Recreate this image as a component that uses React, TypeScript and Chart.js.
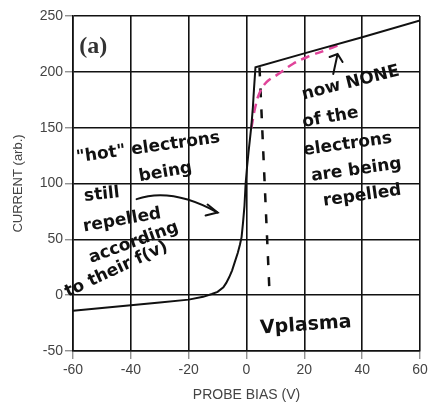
import React, { useEffect, useRef } from "react";
import { Chart, registerables } from "chart.js";

Chart.register(...registerables);

// Probe I-V characteristic (black)
const biasV = [-60, -50, -40, -30, -20, -15, -12, -10, -8, -7, -6, -5, -4, -3, -2.3, -1.7, -1.2, -0.7, -0.3, 0.2, 0.7, 1.2, 1.7, 2.2, 2.6, 3.1, 20, 40, 60];
const currentArb = [-14, -11.5, -9, -6.5, -4, -1.5, 1, 3, 7, 11, 16, 22, 30, 38, 45, 52, 65, 80, 100, 115, 128, 140, 152, 168, 185, 204, 216.5, 231, 246];

// Hand-drawn pink dashed curve
const pinkBias = [1.7, 3, 4.5, 7, 11, 16, 21.7, 27, 33];
const pinkCurrent = [150, 168, 181, 191, 198, 207, 214, 219, 225];

// Hand-drawn V_plasma dashed marker
const vplasmaBias = [4.5, 8];
const vplasmaCurrent = [204, 0];

const xTicks = [-60, -40, -20, 0, 20, 40, 60];
const yTicks = [-50, 0, 50, 100, 150, 200, 250];

const HAND = '600 17px "Comic Sans MS", "DejaVu Sans", sans-serif';

const leftNotes = [
  { t: '"hot" electrons', v: -34, i: 132, r: -8 },
  { t: "still", v: -50, i: 90, r: -6 },
  { t: "being", v: -28, i: 110, r: -10 },
  { t: "repelled", v: -43, i: 67, r: -10 },
  { t: "according", v: -39, i: 47, r: -20 },
  { t: "to their f(v)", v: -45, i: 23, r: -25 },
];
const rightNotes = [
  { t: "now NONE", v: 36, i: 190, r: -14 },
  { t: "of the", v: 29, i: 159, r: -10 },
  { t: "electrons", v: 35, i: 135, r: -8 },
  { t: "are being", v: 38, i: 112, r: -8 },
  { t: "repelled", v: 40, i: 89, r: -8 },
];

const toPts = (xs: number[], ys: number[]) => xs.map((x, k) => ({ x, y: ys[k] }));

const notesPlugin = {
  id: "notes",
  afterDatasetsDraw(chart: any) {
    const { ctx } = chart;
    const x = chart.scales.x;
    const y = chart.scales.y;
    const P = (v: number, i: number) => [x.getPixelForValue(v), y.getPixelForValue(i)];
    ctx.save();
    ctx.fillStyle = "#111";
    ctx.textAlign = "center";
    ctx.textBaseline = "middle";
    // (a)
    {
      const [px, py] = P(-53, 222);
      ctx.font = 'bold 24px "Liberation Serif", serif';
      ctx.fillStyle = "#333";
      ctx.fillText("(a)", px, py);
      ctx.fillStyle = "#111";
    }
    ctx.font = HAND;
    for (const n of [...leftNotes, ...rightNotes]) {
      const [px, py] = P(n.v, n.i);
      ctx.save();
      ctx.translate(px, py);
      ctx.rotate((n.r * Math.PI) / 180);
      ctx.fillText(n.t, 0, 0);
      ctx.restore();
    }
    // Vplasma
    {
      const [px, py] = P(20.5, -27);
      ctx.save();
      ctx.translate(px, py);
      ctx.rotate((-4 * Math.PI) / 180);
      ctx.font = '600 19px "Comic Sans MS", "DejaVu Sans", sans-serif';
      ctx.fillText("Vplasma", 0, 0);
      ctx.restore();
    }
    // arrows
    ctx.strokeStyle = "#111";
    ctx.lineWidth = 2;
    ctx.lineCap = "round";
    const [a0x, a0y] = P(-38, 86);
    const [a1x, a1y] = P(-10, 74);
    ctx.beginPath();
    ctx.moveTo(a0x, a0y);
    ctx.quadraticCurveTo(a0x + 35, a0y - 12, a1x, a1y);
    ctx.stroke();
    ctx.beginPath();
    ctx.moveTo(a1x - 10, a1y - 8);
    ctx.lineTo(a1x, a1y);
    ctx.lineTo(a1x - 12, a1y + 3);
    ctx.stroke();
    const [b0x, b0y] = P(30, 198);
    const [b1x, b1y] = P(31.5, 216);
    ctx.beginPath();
    ctx.moveTo(b0x, b0y);
    ctx.lineTo(b1x, b1y);
    ctx.moveTo(b1x - 8, b1y + 3);
    ctx.lineTo(b1x, b1y);
    ctx.lineTo(b1x + 5, b1y + 8);
    ctx.stroke();
    ctx.restore();
  },
};

export default function App() {
  const ref = useRef<HTMLCanvasElement>(null);
  useEffect(() => {
    if (!ref.current) return;
    const tickFont = { family: '"Liberation Sans", Arial, sans-serif', size: 14 };
    const chart = new Chart(ref.current, {
      type: "scatter",
      data: {
        datasets: [
          {
            data: toPts(biasV, currentArb),
            showLine: true,
            borderColor: "#111",
            borderWidth: 2,
            pointRadius: 0,
            tension: 0,
          } as any,
          {
            data: toPts(pinkBias, pinkCurrent),
            showLine: true,
            borderColor: "#e0449a",
            borderWidth: 2.5,
            borderDash: [9, 6],
            pointRadius: 0,
            tension: 0.4,
          } as any,
          {
            data: toPts(vplasmaBias, vplasmaCurrent),
            showLine: true,
            borderColor: "#111",
            borderWidth: 2.5,
            borderDash: [9, 12],
            pointRadius: 0,
          } as any,
        ],
      },
      options: {
        animation: false,
        responsive: true,
        maintainAspectRatio: false,
        layout: { padding: { top: 16, right: 11, left: 7, bottom: 0 } },
        plugins: { legend: { display: false }, tooltip: { enabled: false } },
        scales: {
          x: {
            type: "linear",
            min: -60,
            max: 60,
            afterBuildTicks: (s: any) => {
              s.ticks = xTicks.map((value) => ({ value }));
            },
            afterFit: (s: any) => {
              s.height = 53;
            },
            grid: { color: "#111", lineWidth: 1.6, tickLength: 8, tickColor: "#666", tickWidth: 1 },
            border: { color: "#111", width: 1.6 },
            ticks: { color: "#444", font: tickFont, padding: 3, maxRotation: 0 },
            title: { display: true, text: "PROBE BIAS (V)", color: "#444", font: tickFont, padding: { top: 0, bottom: 0 } },
          },
          y: {
            type: "linear",
            min: -50,
            max: 250,
            afterBuildTicks: (s: any) => {
              s.ticks = yTicks.map((value) => ({ value }));
            },
            afterFit: (s: any) => {
              s.width = 66;
            },
            grid: { color: "#111", lineWidth: 1.6, tickLength: 8, tickColor: "#666", tickWidth: 1 },
            border: { color: "#111", width: 1.6 },
            ticks: { color: "#444", font: tickFont, padding: 2 },
            title: { display: true, text: "CURRENT (arb.)", color: "#444", font: { ...tickFont, size: 13 }, padding: { top: 4, bottom: 0 } },
          },
        },
      } as any,
      plugins: [notesPlugin],
    });
    return () => chart.destroy();
  }, []);
  return (
    <div style={{ position: "fixed", left: 0, top: 0, width: 431, height: 404, background: "#fff" }}>
      <canvas ref={ref} />
    </div>
  );
}
